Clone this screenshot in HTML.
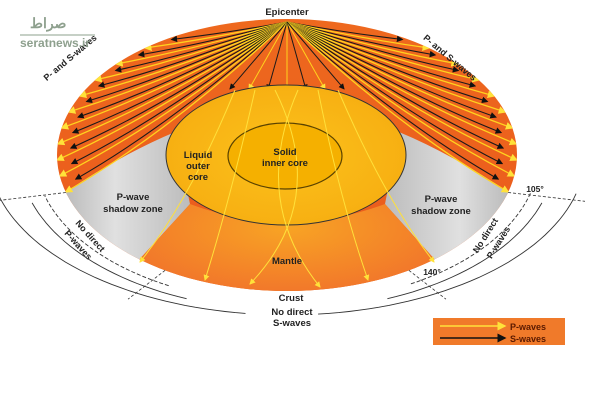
<!DOCTYPE html>
<html><head><meta charset="utf-8"><style>
html,body{margin:0;padding:0;background:#fff;width:600px;height:412px;overflow:hidden}
svg{display:block}
text{font-family:"Liberation Sans",Arial,sans-serif;font-weight:bold;fill:#222}
</style></head><body>
<svg id="s" width="600" height="412" viewBox="0 0 600 412" xmlns="http://www.w3.org/2000/svg">
<defs>
<linearGradient id="og" x1="0" y1="0" x2="0" y2="1">
<stop offset="0" stop-color="#ee6a1e"/><stop offset="1" stop-color="#e8521c"/></linearGradient>
<radialGradient id="mg" cx="0.5" cy="0.2" r="0.9">
<stop offset="0" stop-color="#f8a424"/><stop offset="0.6" stop-color="#f2792a"/><stop offset="1" stop-color="#e85a22"/></radialGradient>
<linearGradient id="gl" x1="0" y1="0" x2="1" y2="0">
<stop offset="0" stop-color="#a8a8a8"/><stop offset="0.5" stop-color="#e0e0e0"/><stop offset="1" stop-color="#bcbcbc"/></linearGradient>
<linearGradient id="gr" x1="1" y1="0" x2="0" y2="0">
<stop offset="0" stop-color="#a8a8a8"/><stop offset="0.5" stop-color="#e0e0e0"/><stop offset="1" stop-color="#bcbcbc"/></linearGradient>
<radialGradient id="cg" cx="0.5" cy="0.5" r="0.6">
<stop offset="0" stop-color="#fcc21c"/><stop offset="1" stop-color="#f6ac10"/></radialGradient>
<marker id="ab" markerWidth="6" markerHeight="6" refX="5" refY="3" orient="auto"><path d="M0,0L6,3L0,6z" fill="#111"/></marker>
<marker id="ay" markerWidth="6" markerHeight="6" refX="5" refY="3" orient="auto"><path d="M0,0L6,3L0,6z" fill="#ffe23a"/></marker>
<clipPath id="disk"><ellipse cx="287" cy="155" rx="230" ry="136"/></clipPath>
</defs>
<g id="base" clip-path="url(#disk)">
<rect x="0" y="0" width="600" height="412" fill="url(#og)"/>
<path d="M40,200 L137,262 L190,204 L175,132 Q120,155 63,194 Z" fill="url(#gl)"/>
<path d="M534,200 L437,262 L385,204 L399,132 Q454,155 511,194 Z" fill="url(#gr)"/>
<path d="M137,262 L190,204 Q287,240 385,204 L437,262 L437,320 L137,320 Z" fill="url(#mg)"/>
<g id="rays"></g>
</g>
<ellipse cx="286" cy="155" rx="120" ry="70" fill="url(#cg)" stroke="#333" stroke-width="1"/>
<ellipse cx="285" cy="156" rx="57" ry="33" fill="#f5b000" stroke="#5a4200" stroke-width="1.2"/>
<g id="core"></g>
<text x="287" y="15" font-size="9.5" text-anchor="middle">Epicenter</text>
<text font-size="9" text-anchor="middle" transform="translate(72,60) rotate(-40)">P- and S-waves</text>
<text font-size="9" text-anchor="middle" transform="translate(448,60) rotate(40)">P- and S-waves</text>
<text x="198" y="158" font-size="9.5" text-anchor="middle">Liquid</text>
<text x="198" y="169" font-size="9.5" text-anchor="middle">outer</text>
<text x="198" y="180" font-size="9.5" text-anchor="middle">core</text>
<text x="285" y="155" font-size="9.5" text-anchor="middle">Solid</text>
<text x="285" y="166" font-size="9.5" text-anchor="middle">inner core</text>
<text x="133" y="200" font-size="9.5" text-anchor="middle">P-wave</text>
<text x="133" y="212" font-size="9.5" text-anchor="middle">shadow zone</text>
<text x="441" y="202" font-size="9.5" text-anchor="middle">P-wave</text>
<text x="441" y="214" font-size="9.5" text-anchor="middle">shadow zone</text>
<text x="287" y="264" font-size="9.5" text-anchor="middle">Mantle</text>
<text x="291" y="301" font-size="9.5" text-anchor="middle">Crust</text>
<text x="292" y="315" font-size="9.5" text-anchor="middle">No direct</text>
<text x="292" y="326" font-size="9.5" text-anchor="middle">S-waves</text>
<text x="535" y="192" font-size="8.5" font-weight="normal" text-anchor="middle">105°</text>
<text x="432" y="275" font-size="8.5" font-weight="normal" text-anchor="middle">140°</text>
<text font-size="9" text-anchor="middle" transform="translate(88,238) rotate(48)">No direct</text>
<text font-size="9" text-anchor="middle" transform="translate(76,247) rotate(48)">P-waves</text>
<text font-size="9" text-anchor="middle" transform="translate(488,237) rotate(-58)">No direct</text>
<text font-size="9" text-anchor="middle" transform="translate(501,244) rotate(-58)">P-waves</text>
<rect x="433" y="318" width="132" height="27" fill="#f07a2a"/>
<line x1="440" y1="326" x2="505" y2="326" stroke="#ffe23a" stroke-width="1.5" marker-end="url(#ay)"/>
<line x1="440" y1="338" x2="505" y2="338" stroke="#111" stroke-width="1.5" marker-end="url(#ab)"/>
<text x="510" y="330" font-size="9" style="fill:#5a1a00">P-waves</text>
<text x="510" y="342" font-size="9" style="fill:#5a1a00">S-waves</text>
<text x="20" y="47" font-size="12" font-weight="normal" style="fill:#8ea08e">seratnews.ir</text>
<line x1="20" y1="35" x2="95" y2="35" stroke="#8ea08e"/>
<text x="30" y="28" font-size="14" font-weight="normal" style="fill:#8ea08e;font-family:'Noto Sans CJK SC',sans-serif">صراط</text>
</svg>
<script>
var NS="http://www.w3.org/2000/svg";
function el(p,t,a){var e=document.createElementNS(NS,t);for(var k in a)e.setAttribute(k,a[k]);p.appendChild(e);return e;}
var cx=287,cy=155,rx=230,ry=136,ex=287,ey=22;
var rays=document.getElementById('rays');
function pt(deg,rxx,ryy){var r=deg*Math.PI/180;return [cx+rxx*Math.cos(r),cy+ryy*Math.sin(r)];}
var n=20;
for(var side=0;side<2;side++){
 for(var i=0;i<n;i++){
  var y=40+(192-40)*i/(n-1);
  var s=(y-cy)/ry; var x=cx-rx*Math.sqrt(1-s*s);
  if(side==1)x=2*cx-x;
  var dx=x-ex,dy=y-ey;
  var qx=ex+dx*0.5, qy=ey+dy*0.62;
  var black=(i%2==0);
  var ex2=x-dx*0.06,ey2=y-dy*0.03;
  el(rays,'path',{d:'M'+ex+','+ey+' Q'+qx.toFixed(1)+','+qy.toFixed(1)+' '+(black?ex2:x).toFixed(1)+','+(black?ey2:y).toFixed(1),fill:'none',stroke:black?'#1a1a1a':'#ffd21e','stroke-width':black?1.1:1.3,'marker-end':black?'url(#ab)':'url(#ay)'});
 }
}
for(var j=0;j<7;j++){
 var tx=230+j*19, ty=90-Math.abs(tx-287)*0.02;
 el(rays,'path',{d:'M'+ex+','+ey+' L'+tx+','+ty,stroke:j%2?'#ffd21e':'#1a1a1a','stroke-width':1,fill:'none','marker-end':j%2?'url(#ay)':'url(#ab)'});
}
var core=document.getElementById('core');
var tops=[235,255,275,298,318,338];
var ends=[[140,262],[205,280],[250,284],[320,287],[368,280],[434,262]];
var ctrl=[[190,200],[230,200],[330,200],[250,200],[340,200],[385,200]];
for(var k=0;k<tops.length;k++){
 var t=tops[k],e=ends[k],c=ctrl[k];
 el(core,'path',{d:'M'+t+',90 Q'+c[0]+','+c[1]+' '+e[0]+','+e[1],fill:'none',stroke:'#ffe03a','stroke-width':1,'marker-end':'url(#ay)'});
}
var g=document.getElementById('s');
function arc(rxx,ryy,a0,a1,dash,w){var d='';for(var a=a0;a<=a1;a+=2){var p=pt(a,rxx,ryy);d+=(d?'L':'M')+p[0].toFixed(1)+','+p[1].toFixed(1);}
 el(g,'path',{d:d,fill:'none',stroke:'#333','stroke-width':w||0.9,'stroke-dasharray':dash||''});}
arc(298,160,14,84);arc(298,160,98,166);
arc(252,148,118,165,'4,2');arc(268,155,112,162);
arc(252,148,15,62,'4,2');arc(268,155,18,68);
function tick(a,r0x,r0y,r1x,r1y){var p=pt(a,r0x,r0y),q=pt(a,r1x,r1y);el(g,'line',{x1:p[0],y1:p[1],x2:q[0],y2:q[1],stroke:'#333','stroke-width':0.8,'stroke-dasharray':'3,2'});}
tick(164,230,136,300,165);tick(16,230,136,310,168);tick(122,230,136,300,170);tick(58,230,136,300,170);
</script>
</body></html>
